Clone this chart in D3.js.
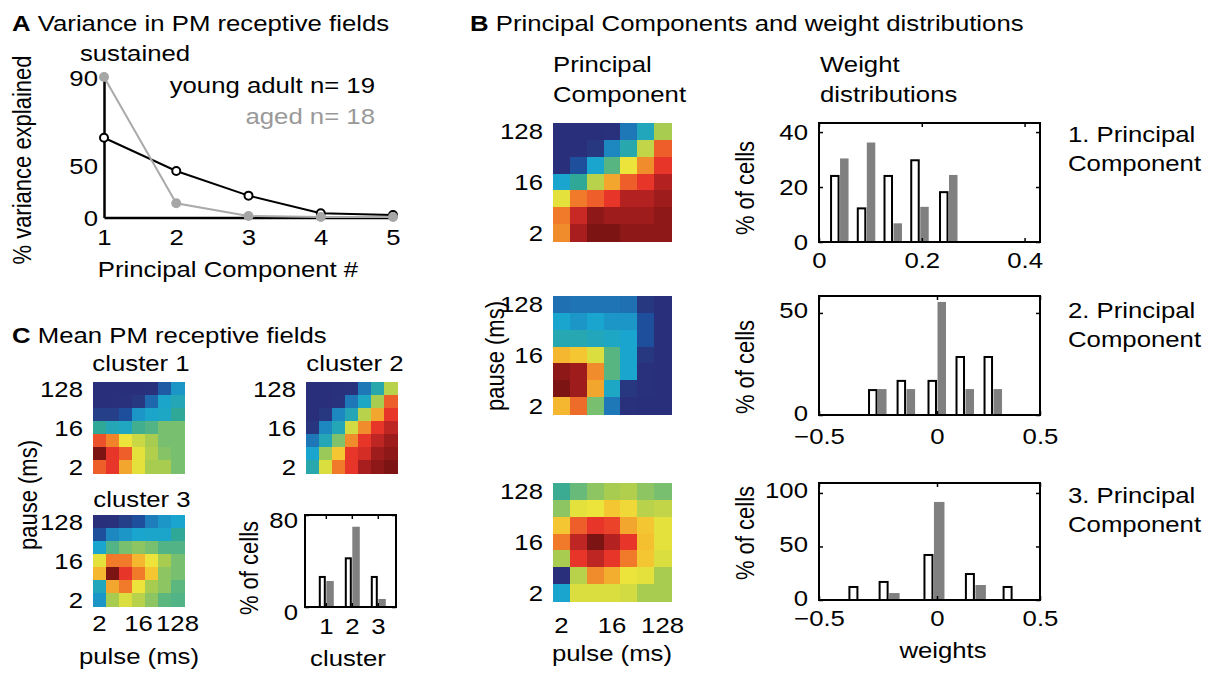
<!DOCTYPE html>
<html>
<head>
<meta charset="utf-8">
<script src="https://cdn.jsdelivr.net/npm/d3@7"></script>
<style>
  body { margin: 0; background: #fff; }
  svg text { font-family: "Liberation Sans", Arial, sans-serif; font-size: 22px; fill: #000; }
</style>
</head>
<body>
<svg id="fig" width="1212" height="675"></svg>
<script>
// ---- data ----
const pcNumbers = [1, 2, 3, 4, 5];
const youngVariance = [62.4, 44.3, 20.8, 4.0, 2.4];
const agedVariance = [90, 13.5, 1.4, 0.5, 0.5];
const varianceTicks = [0, 50, 90];

const durations = [2, 4, 8, 16, 32, 64, 128];
const durationTicks = [2, 16, 128];

// receptive fields, rows from pause 128 (top) down to pause 2, columns pulse 2 -> 128
const cluster1RF = [
  [0.02, 0.02, 0.02, 0.02, 0.03, 0.15, 0.28],
  [0.02, 0.02, 0.03, 0.06, 0.18, 0.32, 0.36],
  [0.08, 0.08, 0.12, 0.28, 0.32, 0.33, 0.42],
  [0.42, 0.36, 0.34, 0.45, 0.48, 0.55, 0.55],
  [0.87, 0.83, 0.70, 0.66, 0.62, 0.55, 0.55],
  [1.00, 0.89, 0.86, 0.69, 0.63, 0.57, 0.55],
  [0.86, 0.89, 0.79, 0.69, 0.62, 0.62, 0.55]
];
const cluster2RF = [
  [0.02, 0.02, 0.03, 0.04, 0.22, 0.38, 0.64],
  [0.02, 0.02, 0.04, 0.22, 0.33, 0.62, 0.86],
  [0.02, 0.06, 0.25, 0.36, 0.64, 0.79, 0.89],
  [0.05, 0.25, 0.36, 0.67, 0.82, 0.89, 0.93],
  [0.22, 0.36, 0.56, 0.82, 0.89, 0.93, 0.96],
  [0.31, 0.60, 0.75, 0.89, 0.91, 0.96, 0.98],
  [0.38, 0.68, 0.84, 0.89, 0.95, 0.98, 1.00]
];
const cluster3RF = [
  [0.02, 0.03, 0.08, 0.12, 0.23, 0.28, 0.31],
  [0.12, 0.25, 0.28, 0.31, 0.32, 0.32, 0.42],
  [0.31, 0.48, 0.55, 0.58, 0.55, 0.48, 0.48],
  [0.69, 0.84, 0.84, 0.77, 0.70, 0.62, 0.55],
  [0.77, 1.00, 0.89, 0.84, 0.75, 0.58, 0.55],
  [0.35, 0.79, 0.84, 0.70, 0.62, 0.58, 0.50],
  [0.28, 0.62, 0.68, 0.64, 0.58, 0.50, 0.48]
];
const pc1RF = [
  [0.02, 0.02, 0.02, 0.03, 0.22, 0.35, 0.62],
  [0.02, 0.02, 0.06, 0.25, 0.38, 0.65, 0.86],
  [0.02, 0.12, 0.31, 0.49, 0.70, 0.82, 0.89],
  [0.31, 0.42, 0.64, 0.79, 0.86, 0.89, 0.94],
  [0.69, 0.84, 0.86, 0.89, 0.94, 0.94, 0.96],
  [0.84, 0.92, 0.98, 0.96, 0.96, 0.96, 0.98],
  [0.82, 0.95, 1.00, 1.00, 0.98, 0.98, 0.98]
];
const pc2RF = [
  [0.20, 0.21, 0.21, 0.21, 0.20, 0.06, 0.02],
  [0.31, 0.28, 0.31, 0.28, 0.28, 0.12, 0.02],
  [0.37, 0.37, 0.35, 0.33, 0.31, 0.12, 0.02],
  [0.77, 0.75, 0.68, 0.49, 0.31, 0.06, 0.02],
  [0.98, 0.96, 0.82, 0.49, 0.31, 0.03, 0.02],
  [1.00, 0.96, 0.79, 0.33, 0.06, 0.03, 0.02],
  [0.77, 0.85, 0.55, 0.22, 0.03, 0.02, 0.02]
];
const pc3RF = [
  [0.44, 0.52, 0.58, 0.62, 0.63, 0.58, 0.55],
  [0.58, 0.69, 0.70, 0.75, 0.72, 0.64, 0.65],
  [0.75, 0.86, 0.89, 0.88, 0.79, 0.75, 0.69],
  [0.84, 0.93, 1.00, 0.94, 0.89, 0.76, 0.69],
  [0.62, 0.89, 0.93, 0.89, 0.84, 0.75, 0.68],
  [0.02, 0.64, 0.82, 0.78, 0.70, 0.69, 0.62],
  [0.31, 0.68, 0.68, 0.68, 0.67, 0.62, 0.62]
];

const clusters = [1, 2, 3];
const clusterYoung = [27, 43.2, 27];
const clusterAged = [22.6, 69.8, 7];

const pc1Bins = [0.04, 0.092, 0.144, 0.196, 0.252];
const pc1Young = [24.4, 12.6, 24.4, 30.1, 18.5];
const pc1Aged = [30.4, 36.2, 6.8, 12.8, 24.4];
const pc2Bins = [-0.252, -0.131, 0, 0.136, 0.272];
const pc2Young = [12.7, 17.2, 17.2, 28.9, 28.9];
const pc2Aged = [12.7, 12.7, 55.4, 12.7, 12.7];
const pc3Bins = [-0.333, -0.205, -0.015, 0.184, 0.367];
const pc3Young = [13.1, 17.8, 43, 25.2, 13.1];
const pc3Aged = [0, 6.5, 91.6, 14, 0];

// ---- style ----
const SX = 1.17; // the figure is stretched horizontally
const cmapStops = [0, 0.06, 0.12, 0.22, 0.31, 0.42, 0.55, 0.62, 0.70, 0.76, 0.84, 0.89, 0.95, 1];
const cmapColors = ['#2a2a78', '#283880', '#1e4f9c', '#1e78b8', '#1aa5cf', '#30a898', '#78c070',
  '#a8cc50', '#ece43a', '#f5c030', '#f07a2a', '#e8352a', '#a81e1e', '#7d1414'];
const jet = d3.scaleLinear().domain(cmapStops).range(cmapColors).clamp(true);
const GRAY = '#808080';

const svg = d3.select('#fig');
svg.append('rect').attr('width', 1212).attr('height', 675).attr('fill', '#fff');

function label(g, x, y, s, anchor = 'start') {
  return g.append('text')
    .attr('transform', `translate(${x},${y}) scale(${SX},1)`)
    .attr('text-anchor', anchor)
    .text(s);
}
function vlabel(g, x, y, s) {
  return g.append('text')
    .attr('transform', `translate(${x},${y}) rotate(-90) scale(1,${SX})`)
    .attr('text-anchor', 'middle')
    .text(s);
}
function title(x, y, letter, s) {
  const t = label(svg, x, y, '');
  t.append('tspan').attr('font-weight', 'bold').text(letter);
  t.append('tspan').text(' ' + s);
}
// restyle the tick labels of a d3 axis
function fixTicks(g, dx, dy, anchor) {
  g.attr('font-size', null).attr('font-family', null);
  g.selectAll('.tick text')
    .attr('x', null).attr('y', null).attr('dy', null)
    .attr('text-anchor', anchor)
    .attr('transform', `translate(${dx},${dy}) scale(${SX},1)`);
}

// ---- A: variance explained ----
title(12, 31, 'A', 'Variance in PM receptive fields');
const xA = d3.scaleLinear().domain([1, 5]).range([104, 393]);
const yA = d3.scaleLinear().domain(varianceTicks).range([217.5, 165, 77]);

const gA = svg.append('g');
gA.append('g').attr('transform', 'translate(0,217.5)')
  .call(d3.axisBottom(xA).tickValues(pcNumbers).tickFormat(d3.format('d')).tickSize(0))
  .call(g => g.select('.domain').attr('stroke-width', 2.5))
  .call(g => fixTicks(g, 0, 27.5, 'middle'));
gA.append('g').attr('transform', 'translate(104,0)')
  .call(d3.axisLeft(yA).tickValues(varianceTicks).tickSize(0))
  .call(g => g.select('.domain').attr('stroke-width', 2.5))
  .call(g => fixTicks(g, -6, 8, 'end'));

const lineA = data => d3.line().x((d, i) => xA(pcNumbers[i])).y(d => yA(d))(data);
gA.append('path').attr('d', lineA(youngVariance)).attr('fill', 'none').attr('stroke', '#000').attr('stroke-width', 2);
gA.append('path').attr('d', lineA(agedVariance)).attr('fill', 'none').attr('stroke', '#aaa').attr('stroke-width', 2);
gA.selectAll('.young').data(youngVariance).enter().append('circle')
  .attr('cx', (d, i) => xA(pcNumbers[i])).attr('cy', d => yA(d)).attr('r', 4)
  .attr('fill', '#fff').attr('stroke', '#000').attr('stroke-width', 2);
gA.selectAll('.aged').data(agedVariance).enter().append('circle')
  .attr('cx', (d, i) => xA(pcNumbers[i])).attr('cy', d => yA(d)).attr('r', 5)
  .attr('fill', '#a6a6a6');

label(svg, 135, 61, 'sustained', 'middle');
label(svg, 375, 93, 'young adult n= 19', 'end');
label(svg, 375, 124, 'aged n= 18', 'end').style('fill', '#999');
label(svg, 228, 277, 'Principal Component #', 'middle');
vlabel(svg, 31, 160, '% variance explained');

// ---- heatmaps ----
function heatmap(x0, y0, size, matrix, showY, showX, xLabelDy) {
  const g = svg.append('g');
  const xB = d3.scaleBand().domain(durations).range([x0, x0 + size]);
  const yB = d3.scaleBand().domain(durations.slice().reverse()).range([y0, y0 + size]);
  const rows = durations.slice().reverse();
  matrix.forEach((row, r) => {
    g.selectAll(null).data(row).enter().append('rect')
      .attr('x', (d, c) => xB(durations[c]))
      .attr('y', yB(rows[r]))
      .attr('width', xB.bandwidth() + 0.5)
      .attr('height', yB.bandwidth() + 0.5)
      .attr('fill', d => jet(d))
      .attr('shape-rendering', 'crispEdges');
  });
  if (showY) {
    g.append('g').attr('transform', `translate(${x0},0)`)
      .call(d3.axisLeft(yB).tickValues(durationTicks).tickSize(0))
      .call(a => a.select('.domain').remove())
      .call(a => fixTicks(a, -10, 8, 'end'));
  }
  if (showX) {
    g.append('g').attr('transform', `translate(0,${y0 + size})`)
      .call(d3.axisBottom(xB).tickValues(durationTicks).tickSize(0))
      .call(a => a.select('.domain').remove())
      .call(a => fixTicks(a, 0, xLabelDy, 'middle'));
  }
}

// ---- paired bar charts ----
function barChart(o) {
  const g = svg.append('g');
  const x = d3.scaleLinear().domain(o.xDomain).range(o.xRange);
  const y = d3.scaleLinear().domain(o.yDomain).range([o.y1, o.y0]);
  const x0 = o.xRange[0], x1 = o.xRange[o.xRange.length - 1];
  const base = y(0);

  g.selectAll(null).data(o.aged).enter().append('rect')
    .attr('x', (d, i) => x(o.bins[i]) + 0.5)
    .attr('y', d => y(d))
    .attr('width', o.wG)
    .attr('height', d => Math.max(0, base - y(d)))
    .attr('fill', GRAY);
  g.selectAll(null).data(o.young).enter().append('rect')
    .attr('x', (d, i) => x(o.bins[i]) - o.wW + 1)
    .attr('y', d => y(d) + 1)
    .attr('width', o.wW - 2)
    .attr('height', d => Math.max(0, base - y(d) - 1))
    .attr('fill', '#fff').attr('stroke', '#000').attr('stroke-width', 2);

  const ax = (gen, tr) => g.append('g').attr('transform', tr).call(gen);
  ax(d3.axisLeft(y).tickValues(o.yTicks).tickSizeInner(-4).tickSizeOuter(0), `translate(${x0},0)`)
    .call(a => a.select('.domain').remove())
    .call(a => fixTicks(a, -(x0 - o.yLabelX), o.yLabelDy, 'end'));
  ax(d3.axisRight(y).tickValues(o.yTicks).tickSizeInner(-4).tickSizeOuter(0).tickFormat(''), `translate(${x1},0)`)
    .call(a => a.select('.domain').remove());
  ax(d3.axisBottom(x).tickValues(o.xTicks).tickFormat(o.xFormat).tickSizeInner(-4).tickSizeOuter(0), `translate(0,${o.y1})`)
    .call(a => a.select('.domain').remove())
    .call(a => fixTicks(a, 0, o.xLabelDy, 'middle'));
  ax(d3.axisTop(x).tickValues(o.xTicks).tickSizeInner(-4).tickSizeOuter(0).tickFormat(''), `translate(0,${o.y0})`)
    .call(a => a.select('.domain').remove());
  g.selectAll('.tick line').attr('stroke-width', 1.5);

  g.append('rect').attr('x', x0).attr('y', o.y0)
    .attr('width', x1 - x0).attr('height', o.y1 - o.y0)
    .attr('fill', 'none').attr('stroke', '#000').attr('stroke-width', 2);
}

// ---- C: mean receptive fields ----
title(12, 343, 'C', 'Mean PM receptive fields');
label(svg, 141, 371, 'cluster 1', 'middle');
label(svg, 355, 371, 'cluster 2', 'middle');
label(svg, 142, 507, 'cluster 3', 'middle');
heatmap(93, 382, 91, cluster1RF, true, false);
heatmap(306, 382, 91, cluster2RF, true, false);
heatmap(93, 515, 91, cluster3RF, true, true, 25);
label(svg, 139, 664, 'pulse (ms)', 'middle');
vlabel(svg, 37, 495, 'pause (ms)');

barChart({
  xDomain: [0.2, 3.7], xRange: [305, 396], y0: 515, y1: 607, yDomain: [0, 80],
  yTicks: [0, 80], xTicks: clusters, xFormat: d3.format('d'),
  bins: clusters, young: clusterYoung, aged: clusterAged, wW: 7, wG: 7.5,
  yLabelX: 298, yLabelDy: 12, xLabelDy: 27
});
vlabel(svg, 258, 568, '% of cells');
label(svg, 348, 666, 'cluster', 'middle');

// ---- B: principal components ----
title(470, 31, 'B', 'Principal Components and weight distributions');
label(svg, 553, 72, 'Principal');
label(svg, 553, 102, 'Component');
label(svg, 820, 72, 'Weight');
label(svg, 820, 102, 'distributions');

heatmap(553, 123, 118, pc1RF, true, false);
heatmap(553, 296, 118, pc2RF, true, false);
heatmap(553, 483, 118, pc3RF, true, true, 32);
label(svg, 612, 661, 'pulse (ms)', 'middle');
vlabel(svg, 504, 356, 'pause (ms)');

const fmtW = d => d === 0 ? '0' : d3.format('.1f')(d);
barChart({
  xDomain: [0, 0.43], xRange: [819, 1040], y0: 123, y1: 242, yDomain: [0, 43.3],
  yTicks: [0, 20, 40], xTicks: [0, 0.2, 0.4], xFormat: fmtW,
  bins: pc1Bins, young: pc1Young, aged: pc1Aged, wW: 9.5, wG: 8.5,
  yLabelX: 808, yLabelDy: 7, xLabelDy: 26
});
barChart({
  xDomain: [-0.5, 0, 0.5], xRange: [819, 937, 1040], y0: 296, y1: 415, yDomain: [0, 58.3],
  yTicks: [0, 50], xTicks: [-0.5, 0, 0.5], xFormat: fmtW,
  bins: pc2Bins, young: pc2Young, aged: pc2Aged, wW: 9.5, wG: 8.5,
  yLabelX: 808, yLabelDy: 5, xLabelDy: 29
});
barChart({
  xDomain: [-0.5, 0, 0.5], xRange: [819, 937, 1040], y0: 483, y1: 600, yDomain: [0, 109.3],
  yTicks: [0, 50, 100], xTicks: [-0.5, 0, 0.5], xFormat: fmtW,
  bins: pc3Bins, young: pc3Young, aged: pc3Aged, wW: 10, wG: 10.5,
  yLabelX: 808, yLabelDy: 5, xLabelDy: 26
});
vlabel(svg, 754, 188, '% of cells');
vlabel(svg, 754, 367, '% of cells');
vlabel(svg, 754, 533, '% of cells');
label(svg, 943, 658, 'weights', 'middle');

label(svg, 1068, 142, '1. Principal');
label(svg, 1068, 171, 'Component');
label(svg, 1068, 318, '2. Principal');
label(svg, 1068, 347, 'Component');
label(svg, 1068, 503, '3. Principal');
label(svg, 1068, 532, 'Component');
</script>
</body>
</html>
